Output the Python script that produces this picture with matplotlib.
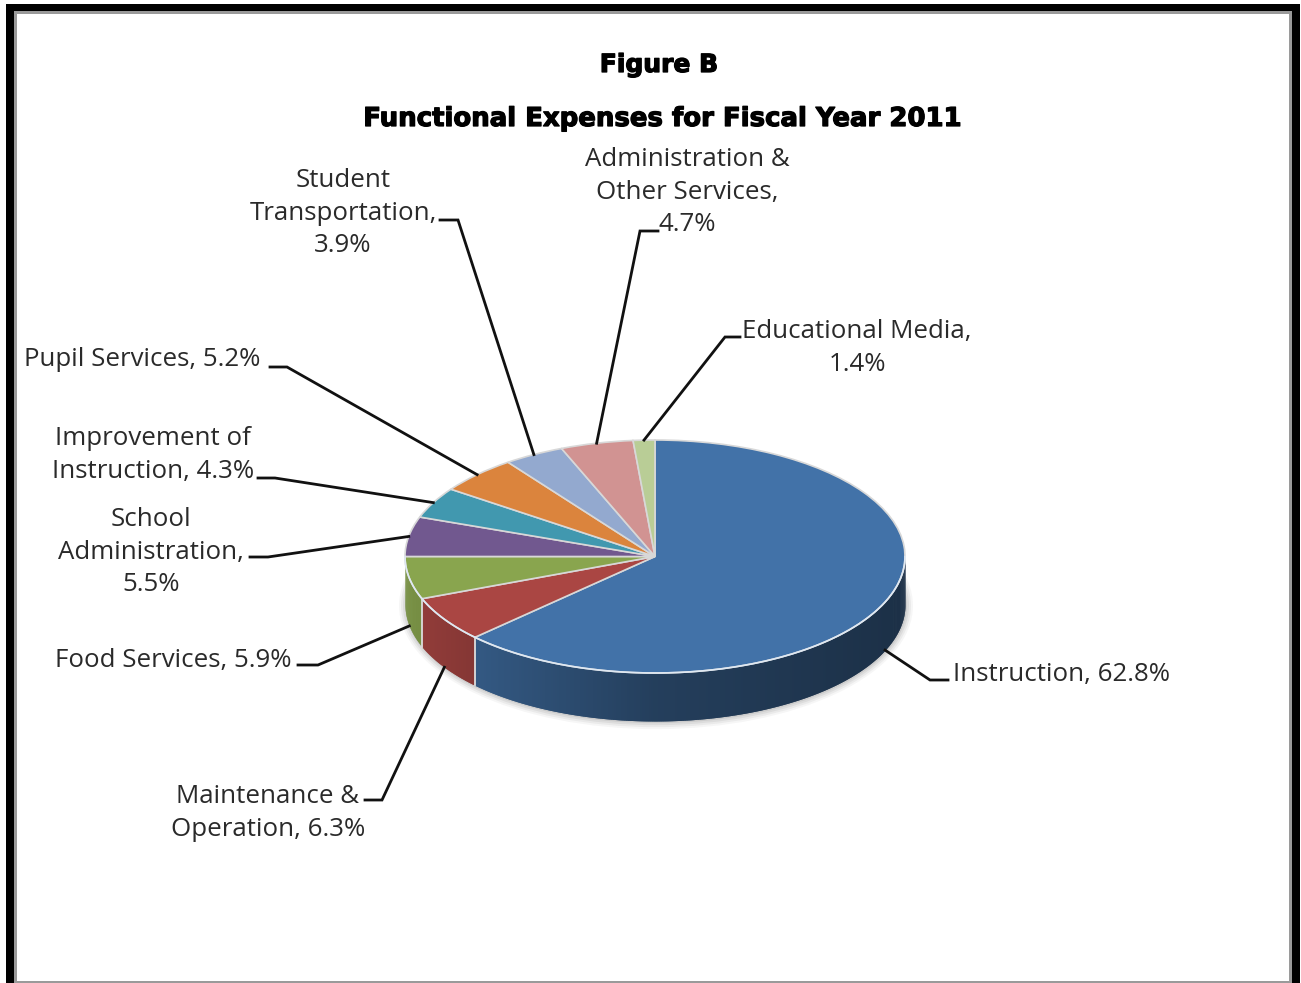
import numpy as np
import matplotlib
matplotlib.use("Agg")
import matplotlib.pyplot as plt
import matplotlib.patheffects as pe
from matplotlib.lines import Line2D
from matplotlib.patches import Rectangle, Ellipse
from matplotlib.transforms import Affine2D

categories = ["Instruction", "Maintenance &\nOperation", "Food Services", "School\nAdministration",
              "Improvement of\nInstruction", "Pupil Services", "Student\nTransportation",
              "Administration &\nOther Services", "Educational Media"]
values = [62.8, 6.3, 5.9, 5.5, 4.3, 5.2, 3.9, 4.7, 1.4]
separators = [", ", ", ", ", ", ",\n", ", ", ", ", ",\n", ",\n", ",\n"]
colors = ["#4272A8", "#AA4643", "#89A54E", "#71588F", "#4198AF", "#DB843D", "#93A9CF", "#D19392", "#B9CD96"]

W, H = 1301, 983
CX, CY, RX, RY, DEPTH = 655, 556.5, 250, 116.5, 48
FONT = "Open Sans"

fig = plt.figure(figsize=(W / 100, H / 100), dpi=100, facecolor="white")
ax = fig.add_axes([0, 0, 1, 1])
px = Affine2D().scale(1 / W, -1 / H).translate(0, 1) + fig.transFigure

# frame
for rect, col in [((6, 4, 1294, 979), "black"), ((14, 11, 1278, 972), "#9a9a9a"), ((17, 14, 1272, 967), "white")]:
    fig.add_artist(Rectangle(rect[:2], rect[2], rect[3], transform=px, facecolor=col, edgecolor="none", zorder=-5))

# top surface
wedges, _ = ax.pie(values, colors=colors, startangle=90, counterclock=False, radius=1,
                   wedgeprops=dict(edgecolor="#d8d8d8", linewidth=1.2, zorder=5))
ax.set_aspect("auto")
ax.set_xlim(-CX / RX, (W - CX) / RX)
ax.set_ylim((CY - H) / RY, CY / RY)
ax.patch.set_alpha(0)
d = DEPTH / RY

# soft shadow
for grow, a in [(7, .05), (5, .07), (3, .09), (1, .12)]:
    ax.add_patch(Ellipse((0.004, -d - 0.01), 2 + 2 * grow / RX, 2 + 2 * grow / RY, facecolor="#555555",
                         edgecolor="none", alpha=a, zorder=1))

# side walls (front half only); strips overlap so no seams show
edges = np.concatenate([[0], np.cumsum(values)]) / sum(values) * 360
for v0, v1, col in zip(edges[:-1], edges[1:], colors):
    a0, a1 = max(v0, 90), min(v1, 270)
    if a1 <= a0:
        continue
    th = np.radians(np.linspace(a0, a1, max(int((a1 - a0) * 2), 3)))
    base = np.array(matplotlib.colors.to_rgb(col))
    for i in range(len(th) - 1):
        seg = th[i:i + 3]
        xs = np.sin(seg)
        ys = np.cos(seg)
        f = np.interp(xs[0], [-1, -.72, 0, 1], [.88, .78, .55, .42])
        ax.fill_between(xs, ys, ys - d, color=base * f, linewidth=0, zorder=3 + i * 1e-4)
    # light rim along the top edge
    ax.plot(np.sin(th), np.cos(th), color="#dfe8f2", lw=1.2, zorder=6)
    if 90 < a0 < 270:
        ax.plot([np.sin(th[0])] * 2, [np.cos(th[0]), np.cos(th[0]) - d], color="#dcdcdc", lw=1.3, zorder=4)

# leaders: (elbow point, end point) in pixels
elbows = [((930, 680), (948, 680)), ((382, 800), (365, 800)), ((318, 665), (298, 665)),
          ((268, 557), (250, 557)), ((275, 478), (258, 478)), ((287, 367), (270, 367)),
          ((458, 220), (440, 220)), ((640, 231), (658, 231)), ((725, 337), (740, 337))]
mids = np.radians((edges[:-1] + edges[1:]) / 2)
for m, (e1, e2) in zip(mids, elbows):
    sx = CX + RX * np.sin(m)
    sy = CY - RY * np.cos(m)
    if np.cos(m) < 0 and (np.degrees(m) < 270):
        sy += DEPTH
    fig.add_artist(Line2D([sx, e1[0], e2[0]], [sy, e1[1], e2[1]], transform=px, color="#111111", lw=2.0,
                          solid_joinstyle="miter", zorder=7))

# labels: anchor, horizontal alignment, in pixels
anchors = [(953, 674, "left"), (268, 813, "center"), (173, 660, "center"), (151, 552, "center"),
           (153, 455, "center"), (142, 359, "center"), (343, 213, "center"), (687, 192, "center"),
           (857, 348, "center")]
for cat, sep, v, (x, y, ha) in zip(categories, separators, values, anchors):
    fig.text(x, y, f"{cat}{sep}{v}%", transform=px, ha=ha, va="center", ma="center", fontsize=18.6,
             family=FONT, color="#2a2a2a", linespacing=1.38, zorder=8)

stroke = [pe.withStroke(linewidth=0.9, foreground="black")]
fig.text(659, 65, "Figure B", transform=px, ha="center", va="center", fontsize=18, family="DejaVu Sans",
         weight="bold", color="black", path_effects=stroke)
fig.text(662, 119, "Functional Expenses for Fiscal Year 2011", transform=px, ha="center", va="center",
         fontsize=18.7, family="DejaVu Sans", weight="bold", color="black", path_effects=stroke)

fig.savefig("out.png", dpi=100)
